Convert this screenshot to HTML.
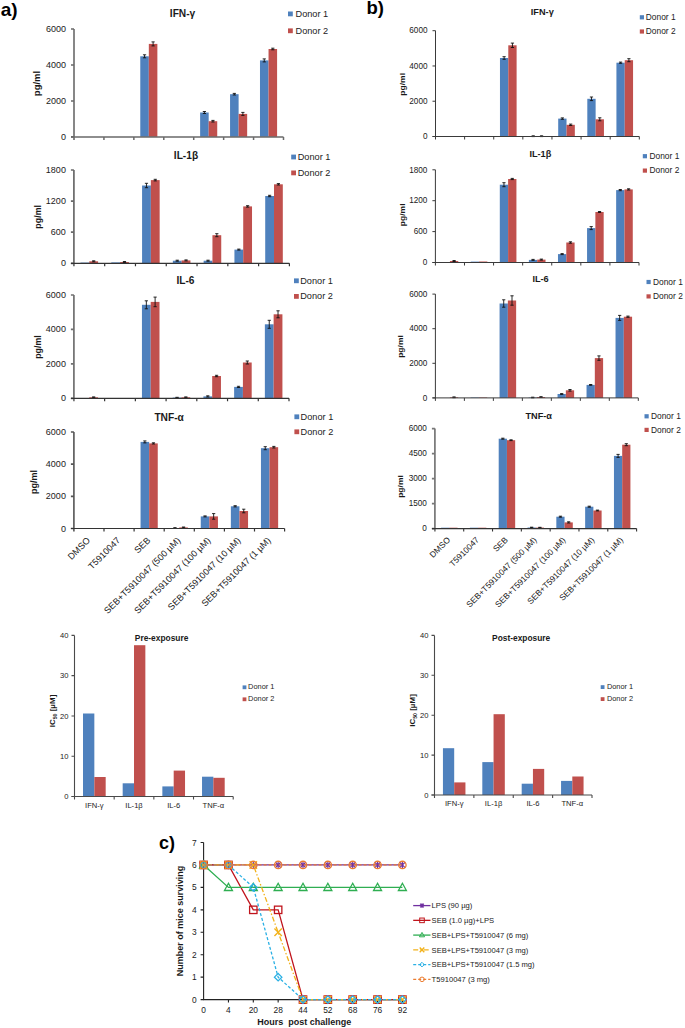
<!DOCTYPE html>
<html><head><meta charset="utf-8"><style>
html,body{margin:0;padding:0;background:#fff;}
body{width:685px;height:1028px;overflow:hidden;}
svg{display:block;font-family:"Liberation Sans", sans-serif;}
</style></head><body>
<svg width="685" height="1028" viewBox="0 0 685 1028">
<rect width="685" height="1028" fill="#fff"/>
<rect x="140.27" y="56.30" width="8.55" height="80.60" fill="#4f81bd"/>
<rect x="148.82" y="43.90" width="8.55" height="93.00" fill="#c0504d"/>
<rect x="200.13" y="112.50" width="8.55" height="24.40" fill="#4f81bd"/>
<rect x="208.68" y="121.20" width="8.55" height="15.70" fill="#c0504d"/>
<rect x="230.06" y="94.20" width="8.55" height="42.70" fill="#4f81bd"/>
<rect x="238.61" y="113.90" width="8.55" height="23.00" fill="#c0504d"/>
<rect x="259.98" y="60.40" width="8.55" height="76.50" fill="#4f81bd"/>
<rect x="268.54" y="49.00" width="8.55" height="87.90" fill="#c0504d"/>
<path d="M142.95,54.80H146.15M144.55,54.80V57.80M142.95,57.80H146.15" stroke="#111" stroke-width="0.9" fill="none"/>
<path d="M151.50,41.90H154.70M153.10,41.90V45.90M151.50,45.90H154.70" stroke="#111" stroke-width="0.9" fill="none"/>
<path d="M202.80,111.50H206.00M204.40,111.50V113.50M202.80,113.50H206.00" stroke="#111" stroke-width="0.9" fill="none"/>
<path d="M211.35,120.40H214.55M212.95,120.40V122.00M211.35,122.00H214.55" stroke="#111" stroke-width="0.9" fill="none"/>
<path d="M232.73,93.40H235.93M234.33,93.40V95.00M232.73,95.00H235.93" stroke="#111" stroke-width="0.9" fill="none"/>
<path d="M241.28,112.40H244.48M242.88,112.40V115.40M241.28,115.40H244.48" stroke="#111" stroke-width="0.9" fill="none"/>
<path d="M262.66,58.90H265.86M264.26,58.90V61.90M262.66,61.90H265.86" stroke="#111" stroke-width="0.9" fill="none"/>
<path d="M271.21,48.20H274.41M272.81,48.20V49.80M271.21,49.80H274.41" stroke="#111" stroke-width="0.9" fill="none"/>
<path d="M74.00,29.00V139.90M71.00,136.90H74.00M71.00,100.93H74.00M71.00,64.97H74.00M71.00,29.00H74.00" stroke="#6a6a6a" stroke-width="1.6" fill="none"/>
<path d="M71.00,136.90H283.50M103.93,136.90V139.90M133.86,136.90V139.90M163.79,136.90V139.90M193.71,136.90V139.90M223.64,136.90V139.90M253.57,136.90V139.90M283.50,136.90V139.90" stroke="#6a6a6a" stroke-width="1.5" fill="none"/>
<text x="66.00" y="139.96" font-size="9.0" text-anchor="end" fill="#1a1a1a" >0</text>
<text x="66.00" y="103.99" font-size="9.0" text-anchor="end" fill="#1a1a1a" >2000</text>
<text x="66.00" y="68.03" font-size="9.0" text-anchor="end" fill="#1a1a1a" >4000</text>
<text x="66.00" y="32.06" font-size="9.0" text-anchor="end" fill="#1a1a1a" >6000</text>
<text x="169.80" y="16.60" font-size="10.2" text-anchor="start" font-weight="bold" fill="#1a1a1a" >IFN-γ</text>
<text transform="translate(40.00,83.50) scale(1.0,1) rotate(-90)" font-size="9.5" font-weight="bold" text-anchor="middle" fill="#1a1a1a">pg/ml</text>
<rect x="288.00" y="11.50" width="4.8" height="4.8" fill="#4f81bd"/>
<rect x="288.00" y="28.40" width="4.8" height="4.8" fill="#c0504d"/>
<text x="295.50" y="16.94" font-size="9.2" text-anchor="start" fill="#222" >Donor 1</text>
<text x="295.50" y="33.84" font-size="9.2" text-anchor="start" fill="#222" >Donor 2</text>
<rect x="80.50" y="262.60" width="8.80" height="0.70" fill="#4f81bd"/>
<rect x="89.29" y="261.30" width="8.80" height="2.00" fill="#c0504d"/>
<rect x="111.28" y="262.40" width="8.80" height="0.90" fill="#4f81bd"/>
<rect x="120.08" y="262.00" width="8.80" height="1.30" fill="#c0504d"/>
<rect x="142.07" y="185.50" width="8.80" height="77.80" fill="#4f81bd"/>
<rect x="150.86" y="180.10" width="8.80" height="83.20" fill="#c0504d"/>
<rect x="172.85" y="260.70" width="8.80" height="2.60" fill="#4f81bd"/>
<rect x="181.65" y="260.40" width="8.80" height="2.90" fill="#c0504d"/>
<rect x="203.64" y="260.70" width="8.80" height="2.60" fill="#4f81bd"/>
<rect x="212.44" y="235.20" width="8.80" height="28.10" fill="#c0504d"/>
<rect x="234.43" y="249.60" width="8.80" height="13.70" fill="#4f81bd"/>
<rect x="243.22" y="206.40" width="8.80" height="56.90" fill="#c0504d"/>
<rect x="265.21" y="196.00" width="8.80" height="67.30" fill="#4f81bd"/>
<rect x="274.01" y="184.30" width="8.80" height="79.00" fill="#c0504d"/>
<path d="M92.09,260.80H95.29M93.69,260.80V261.80M92.09,261.80H95.29" stroke="#111" stroke-width="0.9" fill="none"/>
<path d="M122.88,261.50H126.08M124.48,261.50V262.50M122.88,262.50H126.08" stroke="#111" stroke-width="0.9" fill="none"/>
<path d="M144.87,183.30H148.07M146.47,183.30V187.70M144.87,187.70H148.07" stroke="#111" stroke-width="0.9" fill="none"/>
<path d="M153.66,179.30H156.86M155.26,179.30V180.90M153.66,180.90H156.86" stroke="#111" stroke-width="0.9" fill="none"/>
<path d="M175.65,260.20H178.85M177.25,260.20V261.20M175.65,261.20H178.85" stroke="#111" stroke-width="0.9" fill="none"/>
<path d="M184.45,259.90H187.65M186.05,259.90V260.90M184.45,260.90H187.65" stroke="#111" stroke-width="0.9" fill="none"/>
<path d="M206.44,260.20H209.64M208.04,260.20V261.20M206.44,261.20H209.64" stroke="#111" stroke-width="0.9" fill="none"/>
<path d="M215.23,233.70H218.43M216.83,233.70V236.70M215.23,236.70H218.43" stroke="#111" stroke-width="0.9" fill="none"/>
<path d="M237.22,249.10H240.42M238.82,249.10V250.10M237.22,250.10H240.42" stroke="#111" stroke-width="0.9" fill="none"/>
<path d="M246.02,205.70H249.22M247.62,205.70V207.10M246.02,207.10H249.22" stroke="#111" stroke-width="0.9" fill="none"/>
<path d="M268.01,195.30H271.21M269.61,195.30V196.70M268.01,196.70H271.21" stroke="#111" stroke-width="0.9" fill="none"/>
<path d="M276.81,183.60H280.01M278.41,183.60V185.00M276.81,185.00H280.01" stroke="#111" stroke-width="0.9" fill="none"/>
<path d="M73.90,170.00V266.30M70.90,263.30H73.90M70.90,232.20H73.90M70.90,201.10H73.90M70.90,170.00H73.90" stroke="#6a6a6a" stroke-width="1.7" fill="none"/>
<path d="M70.90,263.30H289.40M104.69,263.30V266.30M135.47,263.30V266.30M166.26,263.30V266.30M197.04,263.30V266.30M227.83,263.30V266.30M258.61,263.30V266.30M289.40,263.30V266.30" stroke="#333" stroke-width="1.2" fill="none"/>
<text x="65.90" y="266.36" font-size="9.0" text-anchor="end" fill="#1a1a1a" >0</text>
<text x="65.90" y="235.26" font-size="9.0" text-anchor="end" fill="#1a1a1a" >600</text>
<text x="65.90" y="204.16" font-size="9.0" text-anchor="end" fill="#1a1a1a" >1200</text>
<text x="65.90" y="173.06" font-size="9.0" text-anchor="end" fill="#1a1a1a" >1800</text>
<text x="173.80" y="158.60" font-size="10.2" text-anchor="start" font-weight="bold" fill="#1a1a1a" >IL-1β</text>
<text transform="translate(41.40,216.80) scale(1.0,1) rotate(-90)" font-size="8.9" font-weight="bold" text-anchor="middle" fill="#1a1a1a">pg/ml</text>
<rect x="291.20" y="154.60" width="4.8" height="4.8" fill="#4f81bd"/>
<rect x="291.20" y="170.50" width="4.8" height="4.8" fill="#c0504d"/>
<text x="297.70" y="160.04" font-size="9.2" text-anchor="start" fill="#222" >Donor 1</text>
<text x="297.70" y="175.94" font-size="9.2" text-anchor="start" fill="#222" >Donor 2</text>
<rect x="89.26" y="397.30" width="8.78" height="1.00" fill="#c0504d"/>
<rect x="141.94" y="304.80" width="8.78" height="93.50" fill="#4f81bd"/>
<rect x="150.72" y="301.90" width="8.78" height="96.40" fill="#c0504d"/>
<rect x="172.67" y="397.60" width="8.78" height="0.70" fill="#4f81bd"/>
<rect x="181.45" y="397.30" width="8.78" height="1.00" fill="#c0504d"/>
<rect x="203.40" y="396.40" width="8.78" height="1.90" fill="#4f81bd"/>
<rect x="212.18" y="376.00" width="8.78" height="22.30" fill="#c0504d"/>
<rect x="234.13" y="386.90" width="8.78" height="11.40" fill="#4f81bd"/>
<rect x="242.91" y="362.50" width="8.78" height="35.80" fill="#c0504d"/>
<rect x="264.86" y="324.30" width="8.78" height="74.00" fill="#4f81bd"/>
<rect x="273.64" y="314.30" width="8.78" height="84.00" fill="#c0504d"/>
<path d="M92.05,396.90H95.25M93.65,396.90V397.70M92.05,397.70H95.25" stroke="#111" stroke-width="0.9" fill="none"/>
<path d="M144.73,300.80H147.93M146.33,300.80V308.80M144.73,308.80H147.93" stroke="#111" stroke-width="0.9" fill="none"/>
<path d="M153.51,297.10H156.71M155.11,297.10V306.70M153.51,306.70H156.71" stroke="#111" stroke-width="0.9" fill="none"/>
<path d="M175.46,397.30H178.66M177.06,397.30V397.90M175.46,397.90H178.66" stroke="#111" stroke-width="0.9" fill="none"/>
<path d="M184.24,396.90H187.44M185.84,396.90V397.70M184.24,397.70H187.44" stroke="#111" stroke-width="0.9" fill="none"/>
<path d="M206.19,395.80H209.39M207.79,395.80V397.00M206.19,397.00H209.39" stroke="#111" stroke-width="0.9" fill="none"/>
<path d="M214.97,375.30H218.17M216.57,375.30V376.70M214.97,376.70H218.17" stroke="#111" stroke-width="0.9" fill="none"/>
<path d="M236.92,386.30H240.12M238.52,386.30V387.50M236.92,387.50H240.12" stroke="#111" stroke-width="0.9" fill="none"/>
<path d="M245.70,361.00H248.90M247.30,361.00V364.00M245.70,364.00H248.90" stroke="#111" stroke-width="0.9" fill="none"/>
<path d="M267.65,320.30H270.85M269.25,320.30V328.30M267.65,328.30H270.85" stroke="#111" stroke-width="0.9" fill="none"/>
<path d="M276.43,310.80H279.63M278.03,310.80V317.80M276.43,317.80H279.63" stroke="#111" stroke-width="0.9" fill="none"/>
<path d="M73.90,295.00V401.30M70.90,398.30H73.90M70.90,363.87H73.90M70.90,329.43H73.90M70.90,295.00H73.90" stroke="#707070" stroke-width="1.7" fill="none"/>
<path d="M70.90,398.30H289.00M104.63,398.30V401.30M135.36,398.30V401.30M166.09,398.30V401.30M196.81,398.30V401.30M227.54,398.30V401.30M258.27,398.30V401.30M289.00,398.30V401.30" stroke="#333" stroke-width="1.2" fill="none"/>
<text x="65.90" y="401.36" font-size="9.0" text-anchor="end" fill="#1a1a1a" >0</text>
<text x="65.90" y="366.93" font-size="9.0" text-anchor="end" fill="#1a1a1a" >2000</text>
<text x="65.90" y="332.49" font-size="9.0" text-anchor="end" fill="#1a1a1a" >4000</text>
<text x="65.90" y="298.06" font-size="9.0" text-anchor="end" fill="#1a1a1a" >6000</text>
<text x="176.40" y="283.70" font-size="10.2" text-anchor="start" font-weight="bold" fill="#1a1a1a" >IL-6</text>
<text transform="translate(41.40,347.00) scale(1.0,1) rotate(-90)" font-size="8.9" font-weight="bold" text-anchor="middle" fill="#1a1a1a">pg/ml</text>
<rect x="294.00" y="278.40" width="4.8" height="4.8" fill="#4f81bd"/>
<rect x="294.00" y="294.00" width="4.8" height="4.8" fill="#c0504d"/>
<text x="300.20" y="283.84" font-size="9.2" text-anchor="start" fill="#222" >Donor 1</text>
<text x="300.20" y="299.44" font-size="9.2" text-anchor="start" fill="#222" >Donor 2</text>
<rect x="80.35" y="528.00" width="8.60" height="0.50" fill="#4f81bd"/>
<rect x="88.95" y="528.00" width="8.60" height="0.50" fill="#c0504d"/>
<rect x="110.45" y="528.10" width="8.60" height="0.40" fill="#4f81bd"/>
<rect x="119.05" y="528.00" width="8.60" height="0.50" fill="#c0504d"/>
<rect x="140.55" y="441.90" width="8.60" height="86.60" fill="#4f81bd"/>
<rect x="149.15" y="443.40" width="8.60" height="85.10" fill="#c0504d"/>
<rect x="170.65" y="528.00" width="8.60" height="0.50" fill="#4f81bd"/>
<rect x="179.25" y="527.40" width="8.60" height="1.10" fill="#c0504d"/>
<rect x="200.75" y="516.40" width="8.60" height="12.10" fill="#4f81bd"/>
<rect x="209.35" y="516.40" width="8.60" height="12.10" fill="#c0504d"/>
<rect x="230.85" y="506.30" width="8.60" height="22.20" fill="#4f81bd"/>
<rect x="239.45" y="511.00" width="8.60" height="17.50" fill="#c0504d"/>
<rect x="260.95" y="448.20" width="8.60" height="80.30" fill="#4f81bd"/>
<rect x="269.55" y="447.20" width="8.60" height="81.30" fill="#c0504d"/>
<path d="M143.25,440.90H146.45M144.85,440.90V442.90M143.25,442.90H146.45" stroke="#111" stroke-width="0.9" fill="none"/>
<path d="M151.85,442.80H155.05M153.45,442.80V444.00M151.85,444.00H155.05" stroke="#111" stroke-width="0.9" fill="none"/>
<path d="M173.35,527.70H176.55M174.95,527.70V528.30M173.35,528.30H176.55" stroke="#111" stroke-width="0.9" fill="none"/>
<path d="M181.95,527.00H185.15M183.55,527.00V527.80M181.95,527.80H185.15" stroke="#111" stroke-width="0.9" fill="none"/>
<path d="M203.45,515.90H206.65M205.05,515.90V516.90M203.45,516.90H206.65" stroke="#111" stroke-width="0.9" fill="none"/>
<path d="M212.05,513.60H215.25M213.65,513.60V519.20M212.05,519.20H215.25" stroke="#111" stroke-width="0.9" fill="none"/>
<path d="M233.55,505.70H236.75M235.15,505.70V506.90M233.55,506.90H236.75" stroke="#111" stroke-width="0.9" fill="none"/>
<path d="M242.15,509.20H245.35M243.75,509.20V512.80M242.15,512.80H245.35" stroke="#111" stroke-width="0.9" fill="none"/>
<path d="M263.65,446.70H266.85M265.25,446.70V449.70M263.65,449.70H266.85" stroke="#111" stroke-width="0.9" fill="none"/>
<path d="M272.25,446.40H275.45M273.85,446.40V448.00M272.25,448.00H275.45" stroke="#111" stroke-width="0.9" fill="none"/>
<path d="M73.90,432.00V531.50M70.90,528.50H73.90M70.90,496.33H73.90M70.90,464.17H73.90M70.90,432.00H73.90" stroke="#555" stroke-width="1.6" fill="none"/>
<path d="M70.90,528.50H284.60M104.00,528.50V531.50M134.10,528.50V531.50M164.20,528.50V531.50M194.30,528.50V531.50M224.40,528.50V531.50M254.50,528.50V531.50M284.60,528.50V531.50" stroke="#333" stroke-width="1.2" fill="none"/>
<text x="65.90" y="531.56" font-size="9.0" text-anchor="end" fill="#1a1a1a" >0</text>
<text x="65.90" y="499.39" font-size="9.0" text-anchor="end" fill="#1a1a1a" >2000</text>
<text x="65.90" y="467.23" font-size="9.0" text-anchor="end" fill="#1a1a1a" >4000</text>
<text x="65.90" y="435.06" font-size="9.0" text-anchor="end" fill="#1a1a1a" >6000</text>
<text x="154.40" y="420.80" font-size="10.2" text-anchor="start" font-weight="bold" fill="#1a1a1a" >TNF-α</text>
<text transform="translate(37.30,481.90) scale(1.0,1) rotate(-90)" font-size="9.0" font-weight="bold" text-anchor="middle" fill="#1a1a1a">pg/ml</text>
<rect x="294.40" y="414.40" width="4.8" height="4.8" fill="#4f81bd"/>
<rect x="294.40" y="429.40" width="4.8" height="4.8" fill="#c0504d"/>
<text x="300.60" y="419.84" font-size="9.2" text-anchor="start" fill="#222" >Donor 1</text>
<text x="300.60" y="434.84" font-size="9.2" text-anchor="start" fill="#222" >Donor 2</text>
<text transform="translate(90.75,541.00) rotate(-45)" font-size="9.1" text-anchor="end" fill="#1a1a1a">DMSO</text>
<text transform="translate(120.85,541.00) rotate(-45)" font-size="9.1" text-anchor="end" fill="#1a1a1a">T5910047</text>
<text transform="translate(150.95,541.00) rotate(-45)" font-size="9.1" text-anchor="end" fill="#1a1a1a">SEB</text>
<text transform="translate(181.05,541.00) rotate(-45)" font-size="9.1" text-anchor="end" fill="#1a1a1a">SEB+T5910047 (500 µM)</text>
<text transform="translate(211.15,541.00) rotate(-45)" font-size="9.1" text-anchor="end" fill="#1a1a1a">SEB+T5910047 (100 µM)</text>
<text transform="translate(241.25,541.00) rotate(-45)" font-size="9.1" text-anchor="end" fill="#1a1a1a">SEB+T5910047 (10 µM)</text>
<text transform="translate(271.35,541.00) rotate(-45)" font-size="9.1" text-anchor="end" fill="#1a1a1a">SEB+T5910047 (1 µM)</text>
<rect x="499.97" y="58.00" width="8.32" height="78.50" fill="#4f81bd"/>
<rect x="508.29" y="45.30" width="8.32" height="91.20" fill="#c0504d"/>
<rect x="529.08" y="136.20" width="8.32" height="0.30" fill="#4f81bd"/>
<rect x="537.40" y="136.20" width="8.32" height="0.30" fill="#c0504d"/>
<rect x="558.20" y="118.60" width="8.32" height="17.90" fill="#4f81bd"/>
<rect x="566.51" y="124.80" width="8.32" height="11.70" fill="#c0504d"/>
<rect x="587.31" y="98.80" width="8.32" height="37.70" fill="#4f81bd"/>
<rect x="595.63" y="119.30" width="8.32" height="17.20" fill="#c0504d"/>
<rect x="616.42" y="62.70" width="8.32" height="73.80" fill="#4f81bd"/>
<rect x="624.74" y="60.20" width="8.32" height="76.30" fill="#c0504d"/>
<path d="M502.53,56.70H505.73M504.13,56.70V59.30M502.53,59.30H505.73" stroke="#111" stroke-width="0.9" fill="none"/>
<path d="M510.84,43.10H514.04M512.44,43.10V47.50M510.84,47.50H514.04" stroke="#111" stroke-width="0.9" fill="none"/>
<path d="M531.64,135.80H534.84M533.24,135.80V136.60M531.64,136.60H534.84" stroke="#111" stroke-width="0.9" fill="none"/>
<path d="M539.96,135.80H543.16M541.56,135.80V136.60M539.96,136.60H543.16" stroke="#111" stroke-width="0.9" fill="none"/>
<path d="M560.76,117.90H563.96M562.36,117.90V119.30M560.76,119.30H563.96" stroke="#111" stroke-width="0.9" fill="none"/>
<path d="M569.07,124.10H572.27M570.67,124.10V125.50M569.07,125.50H572.27" stroke="#111" stroke-width="0.9" fill="none"/>
<path d="M589.87,97.00H593.07M591.47,97.00V100.60M589.87,100.60H593.07" stroke="#111" stroke-width="0.9" fill="none"/>
<path d="M598.19,117.80H601.39M599.79,117.80V120.80M598.19,120.80H601.39" stroke="#111" stroke-width="0.9" fill="none"/>
<path d="M618.98,62.10H622.18M620.58,62.10V63.30M618.98,63.30H622.18" stroke="#111" stroke-width="0.9" fill="none"/>
<path d="M627.30,58.70H630.50M628.90,58.70V61.70M627.30,61.70H630.50" stroke="#111" stroke-width="0.9" fill="none"/>
<path d="M435.50,30.70V139.50M432.50,136.50H435.50M432.50,101.23H435.50M432.50,65.97H435.50M432.50,30.70H435.50" stroke="#3a3a3a" stroke-width="1.0" fill="none"/>
<path d="M432.50,136.50H639.30M464.61,136.50V139.50M493.73,136.50V139.50M522.84,136.50V139.50M551.96,136.50V139.50M581.07,136.50V139.50M610.19,136.50V139.50M639.30,136.50V139.50" stroke="#3a3a3a" stroke-width="1.0" fill="none"/>
<text x="427.50" y="139.29" font-size="8.2" text-anchor="end" fill="#1a1a1a" >0</text>
<text x="427.50" y="104.02" font-size="8.2" text-anchor="end" fill="#1a1a1a" >2000</text>
<text x="427.50" y="68.75" font-size="8.2" text-anchor="end" fill="#1a1a1a" >4000</text>
<text x="427.50" y="33.49" font-size="8.2" text-anchor="end" fill="#1a1a1a" >6000</text>
<text x="530.80" y="15.00" font-size="9.2" text-anchor="start" font-weight="bold" fill="#1a1a1a" >IFN-γ</text>
<text transform="translate(405.20,84.30) scale(0.82,1) rotate(-90)" font-size="8.5" font-weight="bold" text-anchor="middle" fill="#1a1a1a">pg/ml</text>
<rect x="639.80" y="15.20" width="4.2" height="4.2" fill="#4f81bd"/>
<rect x="639.80" y="29.40" width="4.2" height="4.2" fill="#c0504d"/>
<text x="645.80" y="20.07" font-size="8.4" text-anchor="start" fill="#222" >Donor 1</text>
<text x="645.80" y="34.27" font-size="8.4" text-anchor="start" fill="#222" >Donor 2</text>
<rect x="449.94" y="261.00" width="8.31" height="1.50" fill="#c0504d"/>
<rect x="470.72" y="261.60" width="8.31" height="0.90" fill="#4f81bd"/>
<rect x="479.03" y="261.50" width="8.31" height="1.00" fill="#c0504d"/>
<rect x="499.80" y="184.70" width="8.31" height="77.80" fill="#4f81bd"/>
<rect x="508.11" y="179.00" width="8.31" height="83.50" fill="#c0504d"/>
<rect x="528.89" y="259.90" width="8.31" height="2.60" fill="#4f81bd"/>
<rect x="537.20" y="259.60" width="8.31" height="2.90" fill="#c0504d"/>
<rect x="557.98" y="254.10" width="8.31" height="8.40" fill="#4f81bd"/>
<rect x="566.29" y="242.50" width="8.31" height="20.00" fill="#c0504d"/>
<rect x="587.06" y="228.10" width="8.31" height="34.40" fill="#4f81bd"/>
<rect x="595.37" y="212.00" width="8.31" height="50.50" fill="#c0504d"/>
<rect x="616.15" y="190.10" width="8.31" height="72.40" fill="#4f81bd"/>
<rect x="624.46" y="189.40" width="8.31" height="73.10" fill="#c0504d"/>
<path d="M452.50,260.50H455.70M454.10,260.50V261.50M452.50,261.50H455.70" stroke="#111" stroke-width="0.9" fill="none"/>
<path d="M502.36,182.70H505.56M503.96,182.70V186.70M502.36,186.70H505.56" stroke="#111" stroke-width="0.9" fill="none"/>
<path d="M510.67,178.40H513.87M512.27,178.40V179.60M510.67,179.60H513.87" stroke="#111" stroke-width="0.9" fill="none"/>
<path d="M531.44,259.40H534.64M533.04,259.40V260.40M531.44,260.40H534.64" stroke="#111" stroke-width="0.9" fill="none"/>
<path d="M539.76,259.10H542.96M541.36,259.10V260.10M539.76,260.10H542.96" stroke="#111" stroke-width="0.9" fill="none"/>
<path d="M560.53,253.60H563.73M562.13,253.60V254.60M560.53,254.60H563.73" stroke="#111" stroke-width="0.9" fill="none"/>
<path d="M568.84,241.80H572.04M570.44,241.80V243.20M568.84,243.20H572.04" stroke="#111" stroke-width="0.9" fill="none"/>
<path d="M589.62,226.60H592.82M591.22,226.60V229.60M589.62,229.60H592.82" stroke="#111" stroke-width="0.9" fill="none"/>
<path d="M597.93,211.50H601.13M599.53,211.50V212.50M597.93,212.50H601.13" stroke="#111" stroke-width="0.9" fill="none"/>
<path d="M618.70,189.50H621.90M620.30,189.50V190.70M618.70,190.70H621.90" stroke="#111" stroke-width="0.9" fill="none"/>
<path d="M627.01,188.80H630.21M628.61,188.80V190.00M627.01,190.00H630.21" stroke="#111" stroke-width="0.9" fill="none"/>
<path d="M435.40,169.80V265.50M432.40,262.50H435.40M432.40,231.60H435.40M432.40,200.70H435.40M432.40,169.80H435.40" stroke="#3a3a3a" stroke-width="1.0" fill="none"/>
<path d="M432.40,262.50H639.00M464.49,262.50V265.50M493.57,262.50V265.50M522.66,262.50V265.50M551.74,262.50V265.50M580.83,262.50V265.50M609.91,262.50V265.50M639.00,262.50V265.50" stroke="#3a3a3a" stroke-width="1.0" fill="none"/>
<text x="427.40" y="265.29" font-size="8.2" text-anchor="end" fill="#1a1a1a" >0</text>
<text x="427.40" y="234.39" font-size="8.2" text-anchor="end" fill="#1a1a1a" >600</text>
<text x="427.40" y="203.49" font-size="8.2" text-anchor="end" fill="#1a1a1a" >1200</text>
<text x="427.40" y="172.59" font-size="8.2" text-anchor="end" fill="#1a1a1a" >1800</text>
<text x="529.40" y="157.40" font-size="9.2" text-anchor="start" font-weight="bold" fill="#1a1a1a" >IL-1β</text>
<text transform="translate(404.60,214.80) scale(0.82,1) rotate(-90)" font-size="8.5" font-weight="bold" text-anchor="middle" fill="#1a1a1a">pg/ml</text>
<rect x="642.80" y="154.10" width="4.2" height="4.2" fill="#4f81bd"/>
<rect x="642.80" y="168.50" width="4.2" height="4.2" fill="#c0504d"/>
<text x="649.50" y="158.97" font-size="8.4" text-anchor="start" fill="#222" >Donor 1</text>
<text x="649.50" y="173.37" font-size="8.4" text-anchor="start" fill="#222" >Donor 2</text>
<rect x="449.89" y="397.30" width="8.28" height="0.60" fill="#c0504d"/>
<rect x="470.60" y="397.50" width="8.28" height="0.40" fill="#4f81bd"/>
<rect x="478.88" y="397.50" width="8.28" height="0.40" fill="#c0504d"/>
<rect x="499.58" y="303.50" width="8.28" height="94.40" fill="#4f81bd"/>
<rect x="507.86" y="300.50" width="8.28" height="97.40" fill="#c0504d"/>
<rect x="528.57" y="397.50" width="8.28" height="0.40" fill="#4f81bd"/>
<rect x="536.85" y="397.00" width="8.28" height="0.90" fill="#c0504d"/>
<rect x="557.55" y="394.00" width="8.28" height="3.90" fill="#4f81bd"/>
<rect x="565.84" y="390.30" width="8.28" height="7.60" fill="#c0504d"/>
<rect x="586.54" y="384.90" width="8.28" height="13.00" fill="#4f81bd"/>
<rect x="594.82" y="358.10" width="8.28" height="39.80" fill="#c0504d"/>
<rect x="615.53" y="317.90" width="8.28" height="80.00" fill="#4f81bd"/>
<rect x="623.81" y="316.70" width="8.28" height="81.20" fill="#c0504d"/>
<path d="M452.43,396.90H455.63M454.03,396.90V397.70M452.43,397.70H455.63" stroke="#111" stroke-width="0.9" fill="none"/>
<path d="M502.12,299.80H505.32M503.72,299.80V307.20M502.12,307.20H505.32" stroke="#111" stroke-width="0.9" fill="none"/>
<path d="M510.41,295.80H513.61M512.01,295.80V305.20M510.41,305.20H513.61" stroke="#111" stroke-width="0.9" fill="none"/>
<path d="M531.11,397.20H534.31M532.71,397.20V397.80M531.11,397.80H534.31" stroke="#111" stroke-width="0.9" fill="none"/>
<path d="M539.39,396.70H542.59M540.99,396.70V397.30M539.39,397.30H542.59" stroke="#111" stroke-width="0.9" fill="none"/>
<path d="M560.09,393.60H563.29M561.69,393.60V394.40M560.09,394.40H563.29" stroke="#111" stroke-width="0.9" fill="none"/>
<path d="M568.38,389.50H571.58M569.98,389.50V391.10M568.38,391.10H571.58" stroke="#111" stroke-width="0.9" fill="none"/>
<path d="M589.08,384.50H592.28M590.68,384.50V385.30M589.08,385.30H592.28" stroke="#111" stroke-width="0.9" fill="none"/>
<path d="M597.36,355.90H600.56M598.96,355.90V360.30M597.36,360.30H600.56" stroke="#111" stroke-width="0.9" fill="none"/>
<path d="M618.07,315.40H621.27M619.67,315.40V320.40M618.07,320.40H621.27" stroke="#111" stroke-width="0.9" fill="none"/>
<path d="M626.35,316.10H629.55M627.95,316.10V317.30M626.35,317.30H629.55" stroke="#111" stroke-width="0.9" fill="none"/>
<path d="M435.40,294.10V400.90M432.40,397.90H435.40M432.40,363.30H435.40M432.40,328.70H435.40M432.40,294.10H435.40" stroke="#3a3a3a" stroke-width="1.0" fill="none"/>
<path d="M432.40,397.90H638.30M464.39,397.90V400.90M493.37,397.90V400.90M522.36,397.90V400.90M551.34,397.90V400.90M580.33,397.90V400.90M609.31,397.90V400.90M638.30,397.90V400.90" stroke="#3a3a3a" stroke-width="1.0" fill="none"/>
<text x="427.40" y="400.69" font-size="8.2" text-anchor="end" fill="#1a1a1a" >0</text>
<text x="427.40" y="366.09" font-size="8.2" text-anchor="end" fill="#1a1a1a" >2000</text>
<text x="427.40" y="331.49" font-size="8.2" text-anchor="end" fill="#1a1a1a" >4000</text>
<text x="427.40" y="296.89" font-size="8.2" text-anchor="end" fill="#1a1a1a" >6000</text>
<text x="532.40" y="282.40" font-size="9.2" text-anchor="start" font-weight="bold" fill="#1a1a1a" >IL-6</text>
<text transform="translate(403.00,346.50) scale(0.82,1) rotate(-90)" font-size="8.5" font-weight="bold" text-anchor="middle" fill="#1a1a1a">pg/ml</text>
<rect x="646.50" y="279.90" width="4.2" height="4.2" fill="#4f81bd"/>
<rect x="646.50" y="294.30" width="4.2" height="4.2" fill="#c0504d"/>
<text x="653.00" y="284.77" font-size="8.4" text-anchor="start" fill="#222" >Donor 1</text>
<text x="653.00" y="299.17" font-size="8.4" text-anchor="start" fill="#222" >Donor 2</text>
<rect x="441.07" y="527.70" width="8.23" height="0.90" fill="#4f81bd"/>
<rect x="449.31" y="527.70" width="8.23" height="0.90" fill="#c0504d"/>
<rect x="469.89" y="527.70" width="8.23" height="0.90" fill="#4f81bd"/>
<rect x="478.12" y="527.70" width="8.23" height="0.90" fill="#c0504d"/>
<rect x="498.70" y="438.70" width="8.23" height="89.90" fill="#4f81bd"/>
<rect x="506.94" y="440.20" width="8.23" height="88.40" fill="#c0504d"/>
<rect x="527.52" y="527.50" width="8.23" height="1.10" fill="#4f81bd"/>
<rect x="535.75" y="527.60" width="8.23" height="1.00" fill="#c0504d"/>
<rect x="556.33" y="516.70" width="8.23" height="11.90" fill="#4f81bd"/>
<rect x="564.56" y="522.40" width="8.23" height="6.20" fill="#c0504d"/>
<rect x="585.15" y="506.70" width="8.23" height="21.90" fill="#4f81bd"/>
<rect x="593.38" y="510.50" width="8.23" height="18.10" fill="#c0504d"/>
<rect x="613.96" y="455.90" width="8.23" height="72.70" fill="#4f81bd"/>
<rect x="622.19" y="444.70" width="8.23" height="83.90" fill="#c0504d"/>
<path d="M501.22,438.20H504.42M502.82,438.20V439.20M501.22,439.20H504.42" stroke="#111" stroke-width="0.9" fill="none"/>
<path d="M509.45,439.80H512.65M511.05,439.80V440.60M509.45,440.60H512.65" stroke="#111" stroke-width="0.9" fill="none"/>
<path d="M530.03,527.20H533.23M531.63,527.20V527.80M530.03,527.80H533.23" stroke="#111" stroke-width="0.9" fill="none"/>
<path d="M538.27,527.30H541.47M539.87,527.30V527.90M538.27,527.90H541.47" stroke="#111" stroke-width="0.9" fill="none"/>
<path d="M558.85,516.20H562.05M560.45,516.20V517.20M558.85,517.20H562.05" stroke="#111" stroke-width="0.9" fill="none"/>
<path d="M567.08,521.80H570.28M568.68,521.80V523.00M567.08,523.00H570.28" stroke="#111" stroke-width="0.9" fill="none"/>
<path d="M587.66,506.20H590.86M589.26,506.20V507.20M587.66,507.20H590.86" stroke="#111" stroke-width="0.9" fill="none"/>
<path d="M595.89,510.10H599.09M597.49,510.10V510.90M595.89,510.90H599.09" stroke="#111" stroke-width="0.9" fill="none"/>
<path d="M616.48,454.40H619.68M618.08,454.40V457.40M616.48,457.40H619.68" stroke="#111" stroke-width="0.9" fill="none"/>
<path d="M624.71,443.70H627.91M626.31,443.70V445.70M624.71,445.70H627.91" stroke="#111" stroke-width="0.9" fill="none"/>
<path d="M434.90,428.60V531.60M431.90,528.60H434.90M431.90,503.60H434.90M431.90,478.60H434.90M431.90,453.60H434.90M431.90,428.60H434.90" stroke="#777" stroke-width="1.7" fill="none"/>
<path d="M431.90,528.60H636.60M463.71,528.60V531.60M492.53,528.60V531.60M521.34,528.60V531.60M550.16,528.60V531.60M578.97,528.60V531.60M607.79,528.60V531.60M636.60,528.60V531.60" stroke="#333" stroke-width="1.1" fill="none"/>
<text x="426.90" y="531.39" font-size="8.2" text-anchor="end" fill="#1a1a1a" >0</text>
<text x="426.90" y="506.39" font-size="8.2" text-anchor="end" fill="#1a1a1a" >1500</text>
<text x="426.90" y="481.39" font-size="8.2" text-anchor="end" fill="#1a1a1a" >3000</text>
<text x="426.90" y="456.39" font-size="8.2" text-anchor="end" fill="#1a1a1a" >4500</text>
<text x="426.90" y="431.39" font-size="8.2" text-anchor="end" fill="#1a1a1a" >6000</text>
<text x="525.40" y="418.60" font-size="9.2" text-anchor="start" font-weight="bold" fill="#1a1a1a" >TNF-α</text>
<text transform="translate(402.50,486.50) scale(0.82,1) rotate(-90)" font-size="8.5" font-weight="bold" text-anchor="middle" fill="#1a1a1a">pg/ml</text>
<rect x="644.50" y="414.20" width="4.2" height="4.2" fill="#4f81bd"/>
<rect x="644.50" y="427.80" width="4.2" height="4.2" fill="#c0504d"/>
<text x="651.00" y="419.07" font-size="8.4" text-anchor="start" fill="#222" >Donor 1</text>
<text x="651.00" y="432.67" font-size="8.4" text-anchor="start" fill="#222" >Donor 2</text>
<text transform="translate(450.81,540.50) rotate(-45)" font-size="8.4" text-anchor="end" fill="#1a1a1a">DMSO</text>
<text transform="translate(479.62,540.50) rotate(-45)" font-size="8.4" text-anchor="end" fill="#1a1a1a">T5910047</text>
<text transform="translate(508.44,540.50) rotate(-45)" font-size="8.4" text-anchor="end" fill="#1a1a1a">SEB</text>
<text transform="translate(537.25,540.50) rotate(-45)" font-size="8.4" text-anchor="end" fill="#1a1a1a">SEB+T5910047 (500 µM)</text>
<text transform="translate(566.06,540.50) rotate(-45)" font-size="8.4" text-anchor="end" fill="#1a1a1a">SEB+T5910047 (100 µM)</text>
<text transform="translate(594.88,540.50) rotate(-45)" font-size="8.4" text-anchor="end" fill="#1a1a1a">SEB+T5910047 (10 µM)</text>
<text transform="translate(623.69,540.50) rotate(-45)" font-size="8.4" text-anchor="end" fill="#1a1a1a">SEB+T5910047 (1 µM)</text>
<rect x="83.00" y="713.50" width="11.34" height="83.00" fill="#4f81bd"/>
<rect x="94.34" y="777.00" width="11.34" height="19.50" fill="#c0504d"/>
<rect x="122.68" y="783.30" width="11.34" height="13.20" fill="#4f81bd"/>
<rect x="134.01" y="645.20" width="11.34" height="151.30" fill="#c0504d"/>
<rect x="162.35" y="786.40" width="11.34" height="10.10" fill="#4f81bd"/>
<rect x="173.69" y="770.60" width="11.34" height="25.90" fill="#c0504d"/>
<rect x="202.03" y="776.70" width="11.34" height="19.80" fill="#4f81bd"/>
<rect x="213.36" y="777.80" width="11.34" height="18.70" fill="#c0504d"/>
<path d="M74.50,635.40V799.50M71.50,796.50H74.50M71.50,756.23H74.50M71.50,715.95H74.50M71.50,675.67H74.50M71.50,635.40H74.50" stroke="#4a4a4a" stroke-width="1.1" fill="none"/>
<path d="M71.50,796.50H233.20M114.17,796.50V799.50M153.85,796.50V799.50M193.52,796.50V799.50M233.20,796.50V799.50" stroke="#4a4a4a" stroke-width="1.1" fill="none"/>
<text x="68.50" y="799.08" font-size="7.6" text-anchor="end" fill="#1a1a1a" >0</text>
<text x="68.50" y="758.81" font-size="7.6" text-anchor="end" fill="#1a1a1a" >10</text>
<text x="68.50" y="718.53" font-size="7.6" text-anchor="end" fill="#1a1a1a" >20</text>
<text x="68.50" y="678.26" font-size="7.6" text-anchor="end" fill="#1a1a1a" >30</text>
<text x="68.50" y="637.98" font-size="7.6" text-anchor="end" fill="#1a1a1a" >40</text>
<text x="134.80" y="640.50" font-size="8.4" text-anchor="start" font-weight="bold" fill="#1a1a1a" >Pre-exposure</text>
<rect x="242.60" y="685.40" width="3.8" height="3.8" fill="#4f81bd"/>
<rect x="242.60" y="697.40" width="3.8" height="3.8" fill="#c0504d"/>
<text x="248.10" y="689.14" font-size="7.4" text-anchor="start" fill="#222" >Donor 1</text>
<text x="248.10" y="701.14" font-size="7.4" text-anchor="start" fill="#222" >Donor 2</text>
<text x="94.34" y="807.50" font-size="7.6" text-anchor="middle" fill="#222" >IFN-γ</text>
<text x="134.01" y="807.50" font-size="7.6" text-anchor="middle" fill="#222" >IL-1β</text>
<text x="173.69" y="807.50" font-size="7.6" text-anchor="middle" fill="#222" >IL-6</text>
<text x="213.36" y="807.50" font-size="7.6" text-anchor="middle" fill="#222" >TNF-α</text>
<rect x="442.94" y="748.20" width="11.25" height="46.80" fill="#4f81bd"/>
<rect x="454.19" y="782.40" width="11.25" height="12.60" fill="#c0504d"/>
<rect x="482.31" y="762.10" width="11.25" height="32.90" fill="#4f81bd"/>
<rect x="493.56" y="714.20" width="11.25" height="80.80" fill="#c0504d"/>
<rect x="521.69" y="783.70" width="11.25" height="11.30" fill="#4f81bd"/>
<rect x="532.94" y="768.90" width="11.25" height="26.10" fill="#c0504d"/>
<rect x="561.06" y="780.90" width="11.25" height="14.10" fill="#4f81bd"/>
<rect x="572.31" y="776.50" width="11.25" height="18.50" fill="#c0504d"/>
<path d="M434.50,635.40V798.00M431.50,795.00H434.50M431.50,755.10H434.50M431.50,715.20H434.50M431.50,675.30H434.50M431.50,635.40H434.50" stroke="#4a4a4a" stroke-width="1.1" fill="none"/>
<path d="M431.50,795.00H592.00M473.88,795.00V798.00M513.25,795.00V798.00M552.62,795.00V798.00M592.00,795.00V798.00" stroke="#4a4a4a" stroke-width="1.1" fill="none"/>
<text x="428.50" y="797.58" font-size="7.6" text-anchor="end" fill="#1a1a1a" >0</text>
<text x="428.50" y="757.68" font-size="7.6" text-anchor="end" fill="#1a1a1a" >10</text>
<text x="428.50" y="717.78" font-size="7.6" text-anchor="end" fill="#1a1a1a" >20</text>
<text x="428.50" y="677.88" font-size="7.6" text-anchor="end" fill="#1a1a1a" >30</text>
<text x="428.50" y="637.98" font-size="7.6" text-anchor="end" fill="#1a1a1a" >40</text>
<text x="492.10" y="640.80" font-size="8.4" text-anchor="start" font-weight="bold" fill="#1a1a1a" >Post-exposure</text>
<rect x="600.70" y="685.20" width="3.8" height="3.8" fill="#4f81bd"/>
<rect x="600.70" y="697.20" width="3.8" height="3.8" fill="#c0504d"/>
<text x="606.90" y="688.94" font-size="7.4" text-anchor="start" fill="#222" >Donor 1</text>
<text x="606.90" y="700.94" font-size="7.4" text-anchor="start" fill="#222" >Donor 2</text>
<text x="454.19" y="806.00" font-size="7.6" text-anchor="middle" fill="#222" >IFN-γ</text>
<text x="493.56" y="806.00" font-size="7.6" text-anchor="middle" fill="#222" >IL-1β</text>
<text x="532.94" y="806.00" font-size="7.6" text-anchor="middle" fill="#222" >IL-6</text>
<text x="572.31" y="806.00" font-size="7.6" text-anchor="middle" fill="#222" >TNF-α</text>
<path d="M203.60,842.52V999.60H402.40" stroke="#222" stroke-width="1.1" fill="none"/>
<path d="M200.60,999.60H203.60M200.60,977.16H203.60M200.60,954.72H203.60M200.60,932.28H203.60M200.60,909.84H203.60M200.60,887.40H203.60M200.60,864.96H203.60M200.60,842.52H203.60M228.45,999.60V1002.60M253.30,999.60V1002.60M278.15,999.60V1002.60M303.00,999.60V1002.60M327.85,999.60V1002.60M352.70,999.60V1002.60M377.55,999.60V1002.60M402.40,999.60V1002.60" stroke="#222" stroke-width="1.1" fill="none"/>
<text x="196.60" y="1002.60" font-size="8.4" text-anchor="end" fill="#1a1a1a" >0</text>
<text x="196.60" y="980.16" font-size="8.4" text-anchor="end" fill="#1a1a1a" >1</text>
<text x="196.60" y="957.72" font-size="8.4" text-anchor="end" fill="#1a1a1a" >2</text>
<text x="196.60" y="935.28" font-size="8.4" text-anchor="end" fill="#1a1a1a" >3</text>
<text x="196.60" y="912.84" font-size="8.4" text-anchor="end" fill="#1a1a1a" >4</text>
<text x="196.60" y="890.40" font-size="8.4" text-anchor="end" fill="#1a1a1a" >5</text>
<text x="196.60" y="867.96" font-size="8.4" text-anchor="end" fill="#1a1a1a" >6</text>
<text x="196.60" y="845.52" font-size="8.4" text-anchor="end" fill="#1a1a1a" >7</text>
<text x="203.60" y="1013.00" font-size="8.4" text-anchor="middle" fill="#1a1a1a" >0</text>
<text x="228.45" y="1013.00" font-size="8.4" text-anchor="middle" fill="#1a1a1a" >4</text>
<text x="253.30" y="1013.00" font-size="8.4" text-anchor="middle" fill="#1a1a1a" >20</text>
<text x="278.15" y="1013.00" font-size="8.4" text-anchor="middle" fill="#1a1a1a" >28</text>
<text x="303.00" y="1013.00" font-size="8.4" text-anchor="middle" fill="#1a1a1a" >44</text>
<text x="327.85" y="1013.00" font-size="8.4" text-anchor="middle" fill="#1a1a1a" >52</text>
<text x="352.70" y="1013.00" font-size="8.4" text-anchor="middle" fill="#1a1a1a" >68</text>
<text x="377.55" y="1013.00" font-size="8.4" text-anchor="middle" fill="#1a1a1a" >76</text>
<text x="402.40" y="1013.00" font-size="8.4" text-anchor="middle" fill="#1a1a1a" >92</text>
<text x="257.20" y="1024.80" font-size="9.0" text-anchor="start" font-weight="bold" fill="#1a1a1a" >Hours&#160; post challenge</text>
<text transform="translate(182.6,921.06) rotate(-90)" font-size="9" font-weight="bold" text-anchor="middle" fill="#1a1a1a">Number of mice surviving</text>
<text x="159.00" y="849.30" font-size="18" text-anchor="start" font-weight="bold" fill="#000" >c)</text>
<polyline points="203.60,864.96 228.45,864.96 253.30,864.96 278.15,864.96 303.00,864.96 327.85,864.96 352.70,864.96 377.55,864.96 402.40,864.96" fill="none" stroke="#7030a0" stroke-width="1.3"/>
<path d="M200.64,862.00L206.56,867.92M206.56,862.00L200.64,867.92M203.60,861.26V868.66" stroke="#7030a0" stroke-width="1.1"/>
<path d="M225.49,862.00L231.41,867.92M231.41,862.00L225.49,867.92M228.45,861.26V868.66" stroke="#7030a0" stroke-width="1.1"/>
<path d="M250.34,862.00L256.26,867.92M256.26,862.00L250.34,867.92M253.30,861.26V868.66" stroke="#7030a0" stroke-width="1.1"/>
<path d="M275.19,862.00L281.11,867.92M281.11,862.00L275.19,867.92M278.15,861.26V868.66" stroke="#7030a0" stroke-width="1.1"/>
<path d="M300.04,862.00L305.96,867.92M305.96,862.00L300.04,867.92M303.00,861.26V868.66" stroke="#7030a0" stroke-width="1.1"/>
<path d="M324.89,862.00L330.81,867.92M330.81,862.00L324.89,867.92M327.85,861.26V868.66" stroke="#7030a0" stroke-width="1.1"/>
<path d="M349.74,862.00L355.66,867.92M355.66,862.00L349.74,867.92M352.70,861.26V868.66" stroke="#7030a0" stroke-width="1.1"/>
<path d="M374.59,862.00L380.51,867.92M380.51,862.00L374.59,867.92M377.55,861.26V868.66" stroke="#7030a0" stroke-width="1.1"/>
<path d="M399.44,862.00L405.36,867.92M405.36,862.00L399.44,867.92M402.40,861.26V868.66" stroke="#7030a0" stroke-width="1.1"/>
<polyline points="203.60,864.96 228.45,864.96 253.30,909.84 278.15,909.84 303.00,999.60 327.85,999.60 352.70,999.60 377.55,999.60 402.40,999.60" fill="none" stroke="#c0141c" stroke-width="1.3"/>
<rect x="199.90" y="861.26" width="7.40" height="7.40" fill="none" stroke="#c0141c" stroke-width="1.3"/>
<rect x="224.75" y="861.26" width="7.40" height="7.40" fill="none" stroke="#c0141c" stroke-width="1.3"/>
<rect x="249.60" y="906.14" width="7.40" height="7.40" fill="none" stroke="#c0141c" stroke-width="1.3"/>
<rect x="274.45" y="906.14" width="7.40" height="7.40" fill="none" stroke="#c0141c" stroke-width="1.3"/>
<rect x="299.30" y="995.90" width="7.40" height="7.40" fill="none" stroke="#c0141c" stroke-width="1.3"/>
<rect x="324.15" y="995.90" width="7.40" height="7.40" fill="none" stroke="#c0141c" stroke-width="1.3"/>
<rect x="349.00" y="995.90" width="7.40" height="7.40" fill="none" stroke="#c0141c" stroke-width="1.3"/>
<rect x="373.85" y="995.90" width="7.40" height="7.40" fill="none" stroke="#c0141c" stroke-width="1.3"/>
<rect x="398.70" y="995.90" width="7.40" height="7.40" fill="none" stroke="#c0141c" stroke-width="1.3"/>
<polyline points="203.60,864.96 228.45,887.40 253.30,887.40 278.15,887.40 303.00,887.40 327.85,887.40 352.70,887.40 377.55,887.40 402.40,887.40" fill="none" stroke="#2fae52" stroke-width="1.3"/>
<path d="M203.60,860.86L207.60,868.06H199.60Z" fill="none" stroke="#2fae52" stroke-width="1.3"/>
<path d="M228.45,883.30L232.45,890.50H224.45Z" fill="none" stroke="#2fae52" stroke-width="1.3"/>
<path d="M253.30,883.30L257.30,890.50H249.30Z" fill="none" stroke="#2fae52" stroke-width="1.3"/>
<path d="M278.15,883.30L282.15,890.50H274.15Z" fill="none" stroke="#2fae52" stroke-width="1.3"/>
<path d="M303.00,883.30L307.00,890.50H299.00Z" fill="none" stroke="#2fae52" stroke-width="1.3"/>
<path d="M327.85,883.30L331.85,890.50H323.85Z" fill="none" stroke="#2fae52" stroke-width="1.3"/>
<path d="M352.70,883.30L356.70,890.50H348.70Z" fill="none" stroke="#2fae52" stroke-width="1.3"/>
<path d="M377.55,883.30L381.55,890.50H373.55Z" fill="none" stroke="#2fae52" stroke-width="1.3"/>
<path d="M402.40,883.30L406.40,890.50H398.40Z" fill="none" stroke="#2fae52" stroke-width="1.3"/>
<polyline points="203.60,864.96 228.45,864.96 253.30,864.96 278.15,932.28 303.00,999.60 327.85,999.60 352.70,999.60 377.55,999.60 402.40,999.60" fill="none" stroke="#f2b21b" stroke-width="1.3" stroke-dasharray="5,2,1.5,2"/>
<path d="M199.90,861.26L207.30,868.66M207.30,861.26L199.90,868.66" stroke="#f2b21b" stroke-width="1.4"/>
<path d="M224.75,861.26L232.15,868.66M232.15,861.26L224.75,868.66" stroke="#f2b21b" stroke-width="1.4"/>
<path d="M249.60,861.26L257.00,868.66M257.00,861.26L249.60,868.66" stroke="#f2b21b" stroke-width="1.4"/>
<path d="M274.45,928.58L281.85,935.98M281.85,928.58L274.45,935.98" stroke="#f2b21b" stroke-width="1.4"/>
<path d="M299.30,995.90L306.70,1003.30M306.70,995.90L299.30,1003.30" stroke="#f2b21b" stroke-width="1.4"/>
<path d="M324.15,995.90L331.55,1003.30M331.55,995.90L324.15,1003.30" stroke="#f2b21b" stroke-width="1.4"/>
<path d="M349.00,995.90L356.40,1003.30M356.40,995.90L349.00,1003.30" stroke="#f2b21b" stroke-width="1.4"/>
<path d="M373.85,995.90L381.25,1003.30M381.25,995.90L373.85,1003.30" stroke="#f2b21b" stroke-width="1.4"/>
<path d="M398.70,995.90L406.10,1003.30M406.10,995.90L398.70,1003.30" stroke="#f2b21b" stroke-width="1.4"/>
<polyline points="203.60,864.96 228.45,864.96 253.30,887.40 278.15,977.16 303.00,999.60 327.85,999.60 352.70,999.60 377.55,999.60 402.40,999.60" fill="none" stroke="#2ab0e4" stroke-width="1.3" stroke-dasharray="3,2"/>
<path d="M203.60,861.26L207.30,864.96L203.60,868.66L199.90,864.96Z" fill="none" stroke="#2ab0e4" stroke-width="1.3"/>
<path d="M228.45,861.26L232.15,864.96L228.45,868.66L224.75,864.96Z" fill="none" stroke="#2ab0e4" stroke-width="1.3"/>
<path d="M253.30,883.70L257.00,887.40L253.30,891.10L249.60,887.40Z" fill="none" stroke="#2ab0e4" stroke-width="1.3"/>
<path d="M278.15,973.46L281.85,977.16L278.15,980.86L274.45,977.16Z" fill="none" stroke="#2ab0e4" stroke-width="1.3"/>
<path d="M303.00,995.90L306.70,999.60L303.00,1003.30L299.30,999.60Z" fill="none" stroke="#2ab0e4" stroke-width="1.3"/>
<path d="M327.85,995.90L331.55,999.60L327.85,1003.30L324.15,999.60Z" fill="none" stroke="#2ab0e4" stroke-width="1.3"/>
<path d="M352.70,995.90L356.40,999.60L352.70,1003.30L349.00,999.60Z" fill="none" stroke="#2ab0e4" stroke-width="1.3"/>
<path d="M377.55,995.90L381.25,999.60L377.55,1003.30L373.85,999.60Z" fill="none" stroke="#2ab0e4" stroke-width="1.3"/>
<path d="M402.40,995.90L406.10,999.60L402.40,1003.30L398.70,999.60Z" fill="none" stroke="#2ab0e4" stroke-width="1.3"/>
<polyline points="203.60,864.96 228.45,864.96 253.30,864.96 278.15,864.96 303.00,864.96 327.85,864.96 352.70,864.96 377.55,864.96 402.40,864.96" fill="none" stroke="#ec7d31" stroke-width="1.3" stroke-dasharray="3,2"/>
<circle cx="203.60" cy="864.96" r="3.70" fill="none" stroke="#ec7d31" stroke-width="1.3"/>
<circle cx="228.45" cy="864.96" r="3.70" fill="none" stroke="#ec7d31" stroke-width="1.3"/>
<circle cx="253.30" cy="864.96" r="3.70" fill="none" stroke="#ec7d31" stroke-width="1.3"/>
<circle cx="278.15" cy="864.96" r="3.70" fill="none" stroke="#ec7d31" stroke-width="1.3"/>
<circle cx="303.00" cy="864.96" r="3.70" fill="none" stroke="#ec7d31" stroke-width="1.3"/>
<circle cx="327.85" cy="864.96" r="3.70" fill="none" stroke="#ec7d31" stroke-width="1.3"/>
<circle cx="352.70" cy="864.96" r="3.70" fill="none" stroke="#ec7d31" stroke-width="1.3"/>
<circle cx="377.55" cy="864.96" r="3.70" fill="none" stroke="#ec7d31" stroke-width="1.3"/>
<circle cx="402.40" cy="864.96" r="3.70" fill="none" stroke="#ec7d31" stroke-width="1.3"/>
<path d="M413.2,905.60H430.5" stroke="#7030a0" stroke-width="1.3"/>
<path d="M420.16,903.76L423.84,907.44M423.84,903.76L420.16,907.44M422.00,903.30V907.90" stroke="#7030a0" stroke-width="1.1"/>
<text x="431.60" y="908.30" font-size="7.6" text-anchor="start" fill="#222" >LPS (90 µg)</text>
<path d="M413.2,920.35H430.5" stroke="#c0141c" stroke-width="1.3"/>
<rect x="419.70" y="918.05" width="4.60" height="4.60" fill="none" stroke="#c0141c" stroke-width="1.0"/>
<text x="431.60" y="923.05" font-size="7.6" text-anchor="start" fill="#222" >SEB (1.0 µg)+LPS</text>
<path d="M413.2,935.10H430.5" stroke="#2fae52" stroke-width="1.3"/>
<path d="M422.00,932.40L424.60,936.80H419.40Z" fill="none" stroke="#2fae52" stroke-width="1.0"/>
<text x="431.60" y="937.80" font-size="7.6" text-anchor="start" fill="#222" >SEB+LPS+T5910047 (6 mg)</text>
<path d="M413.2,949.85H430.5" stroke="#f2b21b" stroke-width="1.3" stroke-dasharray="5,2,1.5,2"/>
<path d="M419.70,947.55L424.30,952.15M424.30,947.55L419.70,952.15" stroke="#f2b21b" stroke-width="1.4"/>
<text x="431.60" y="952.55" font-size="7.6" text-anchor="start" fill="#222" >SEB+LPS+T5910047 (3 mg)</text>
<path d="M413.2,964.60H430.5" stroke="#2ab0e4" stroke-width="1.3" stroke-dasharray="3,2"/>
<path d="M422.00,962.30L424.30,964.60L422.00,966.90L419.70,964.60Z" fill="none" stroke="#2ab0e4" stroke-width="1.0"/>
<text x="431.60" y="967.30" font-size="7.6" text-anchor="start" fill="#222" >SEB+LPS+T5910047 (1.5 mg)</text>
<path d="M413.2,979.35H430.5" stroke="#ec7d31" stroke-width="1.3" stroke-dasharray="3,2"/>
<circle cx="422.00" cy="979.35" r="2.30" fill="none" stroke="#ec7d31" stroke-width="1.0"/>
<text x="431.60" y="982.05" font-size="7.6" text-anchor="start" fill="#222" >T5910047 (3 mg)</text>
<text x="0.80" y="15.50" font-size="19" text-anchor="start" font-weight="bold" fill="#000" >a)</text>
<text x="366.50" y="14.30" font-size="18.5" text-anchor="start" font-weight="bold" fill="#000" >b)</text>
<text transform="translate(55.20,711.00) rotate(-90)" font-size="8" font-weight="bold" text-anchor="middle" fill="#1a1a1a">IC<tspan font-size="5.2" dy="1.5">50</tspan><tspan dy="-1.5"> [µM]</tspan></text>
<text transform="translate(415.20,710.50) rotate(-90)" font-size="8" font-weight="bold" text-anchor="middle" fill="#1a1a1a">IC<tspan font-size="5.2" dy="1.5">50</tspan><tspan dy="-1.5"> [µM]</tspan></text>
</svg>
</body></html>
